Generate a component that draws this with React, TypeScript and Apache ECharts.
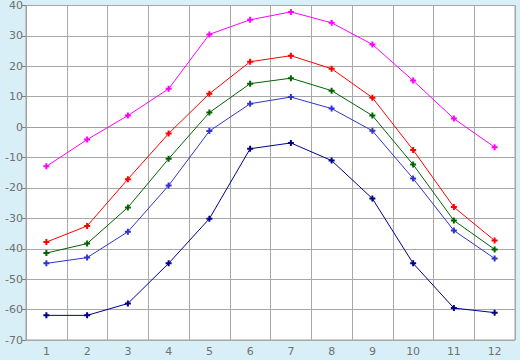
import React, { useEffect, useRef } from "react";
import * as echarts from "echarts";

const months = ["1", "2", "3", "4", "5", "6", "7", "8", "9", "10", "11", "12"];
const magenta = [-12.9, -4.1, 3.8, 12.6, 30.5, 35.3, 37.9, 34.3, 27.2, 15.3, 2.8, -6.6];
const red = [-37.8, -32.5, -17.1, -2.1, 11.0, 21.5, 23.5, 19.2, 9.7, -7.5, -26.3, -37.3];
const green = [-41.4, -38.3, -26.4, -10.4, 4.8, 14.3, 16.1, 12.0, 3.8, -12.3, -30.7, -40.2];
const blue = [-44.8, -42.9, -34.4, -19.2, -1.3, 7.7, 9.9, 6.1, -1.2, -16.9, -34.0, -43.2];
const navy = [-61.9, -61.9, -58.0, -44.8, -30.1, -7.1, -5.2, -11.0, -23.5, -44.8, -59.5, -61.0];

const seriesDefs: [number[], string][] = [
  [magenta, "#ff00ff"],
  [red, "#ff0000"],
  [green, "#006400"],
  [blue, "#3333cc"],
  [navy, "#00008b"],
];

const plus = "path://M2,0H4V2H6V4H4V6H2V4H0V2H2Z";

export default function App() {
  const ref = useRef<HTMLDivElement>(null);
  useEffect(() => {
    const chart = echarts.init(ref.current!, undefined, { renderer: "svg" });
    const labelStyle = { color: "#707070", fontSize: 11, fontFamily: "DejaVu Sans" };
    chart.setOption({
      animation: false,
      backgroundColor: "#d9eff7",
      grid: {
        left: 26,
        right: 5,
        top: 5,
        bottom: 20,
        show: true,
        backgroundColor: "#ffffff",
        borderColor: "#a0a0a0",
        borderWidth: 1,
      },
      xAxis: {
        type: "category",
        data: months,
        boundaryGap: true,
        axisLine: { lineStyle: { color: "#a0a0a0" } },
        axisTick: { alignWithLabel: true, length: 4, lineStyle: { color: "#808080" } },
        axisLabel: { ...labelStyle, margin: 6 },
        splitLine: { show: true, lineStyle: { color: "#a8a8a8", width: 1 } },
      },
      yAxis: {
        type: "value",
        min: -70,
        max: 40,
        interval: 10,
        axisLine: { show: true, lineStyle: { color: "#a0a0a0" } },
        axisTick: { show: true, length: 4, lineStyle: { color: "#808080" } },
        axisLabel: { ...labelStyle, margin: 3 },
        splitLine: { show: true, lineStyle: { color: "#a8a8a8", width: 1 } },
      },
      series: seriesDefs.map(([d, c]) => ({
        type: "line",
        data: d,
        symbol: plus,
        symbolSize: 6,
        showSymbol: true,
        lineStyle: { color: c, width: 1 },
        itemStyle: { color: c },
      })),
    });
    return () => chart.dispose();
  }, []);
  return <div ref={ref} style={{ width: 520, height: 360, position: "absolute", left: 0, top: 0 }} />;
}
